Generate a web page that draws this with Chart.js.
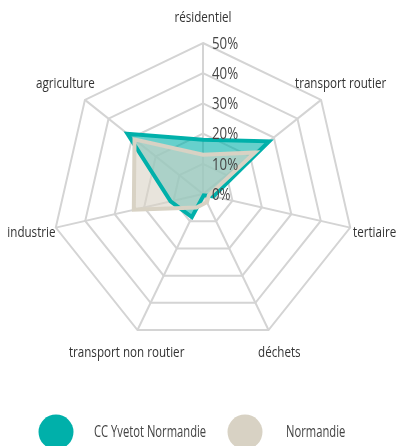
<!DOCTYPE html>
<html>
<head>
<meta charset="utf-8">
<script src="https://cdn.jsdelivr.net/npm/chart.js@4/dist/chart.umd.min.js"></script>
<style>
  html, body { margin: 0; padding: 0; background: #fff; }
  #wrap { position: relative; width: 397px; height: 446px; overflow: hidden; }
</style>
</head>
<body>
<div id="wrap"><canvas id="c" width="397" height="446"></canvas></div>
<script>
// Émissions par secteur (part du total, en %)
const categories = ['résidentiel', 'transport routier', 'tertiaire', 'déchets', 'transport non routier', 'industrie', 'agriculture'];
const yvetotValues = [18, 28, 3.5, 0.5, 8.5, 11, 32];
const normandieValues = [13, 22, 2, 3, 5, 23.5, 29];
const seriesNames = ['CC Yvetot Normandie', 'Normandie'];
const tickMin = 0;
const tickMax = 50;
const tickStep = 10;

const FONT = '"Open Sans", "Noto Sans", sans-serif';
const TEAL = 'rgb(0,176,170)';
const TEAL_FILL = 'rgba(0,176,170,0.6)';
const BEIGE = 'rgb(216,210,196)';
const BEIGE_FILL = 'rgba(216,210,196,0.6)';

// Draws horizontally condensed text (narrow typeface look)
function drawCondensed(ctx, text, x, y, font, sx, align, color) {
  ctx.save();
  ctx.font = font;
  ctx.fillStyle = color;
  const w = ctx.measureText(text).width * sx;
  const left = align === 'center' ? x - w / 2 : (align === 'right' ? x - w : x);
  ctx.translate(left, y);
  ctx.scale(sx, 1);
  ctx.textAlign = 'left';
  ctx.textBaseline = 'middle';
  ctx.fillText(text, 0, 0);
  ctx.restore();
}

// Category names centred just outside each spoke, and % labels beside the vertical spoke
const radarLabelsPlugin = {
  id: 'radarLabels',
  afterDatasetsDraw(chart) {
    const s = chart.scales.r;
    const ctx = chart.ctx;
    chart.data.labels.forEach((name, i) => {
      const p = s.getPointPosition(i, s.drawingArea + 25);
      drawCondensed(ctx, name, p.x, p.y, '14px ' + FONT, 0.83, 'center', '#333');
    });
    s.ticks.forEach(t => {
      const d = s.getDistanceFromCenterForValue(t.value);
      drawCondensed(ctx, t.value + '%', s.xCenter + 9, s.yCenter - d + 1, '17px ' + FONT, 0.78, 'left', '#444');
    });
  }
};

// Legend with large round swatches along the bottom
const bigLegendPlugin = {
  id: 'bigLegend',
  afterDraw(chart) {
    const ctx = chart.ctx;
    const swatchX = [56, 245];
    const textX = [94, 286];
    const y = 432;
    chart.data.datasets.forEach((ds, i) => {
      ctx.save();
      ctx.beginPath();
      ctx.arc(swatchX[i], y, 17.5, 0, Math.PI * 2);
      ctx.fillStyle = ds.borderColor;
      ctx.fill();
      ctx.restore();
      drawCondensed(ctx, ds.label, textX[i], y, '17px ' + FONT, 0.66, 'left', '#444');
    });
  }
};

new Chart(document.getElementById('c'), {
  type: 'radar',
  data: {
    labels: categories,
    datasets: [
      {
        label: seriesNames[0],
        data: yvetotValues,
        borderColor: TEAL,
        backgroundColor: TEAL_FILL,
        borderWidth: 4,
        borderJoinStyle: 'miter',
        pointRadius: 0,
        fill: true,
        order: 2
      },
      {
        label: seriesNames[1],
        data: normandieValues,
        borderColor: BEIGE,
        backgroundColor: BEIGE_FILL,
        borderWidth: 4,
        borderJoinStyle: 'miter',
        pointRadius: 0,
        fill: true,
        order: 1
      }
    ]
  },
  options: {
    responsive: false,
    devicePixelRatio: 1,
    animation: false,
    layout: { padding: { top: 43, bottom: 101, left: 52, right: 43 } },
    plugins: {
      legend: { display: false },
      tooltip: { enabled: false },
      filler: { drawTime: 'beforeDatasetsDraw' }
    },
    scales: {
      r: {
        min: tickMin,
        max: tickMax,
        ticks: { stepSize: tickStep, display: false },
        grid: { color: '#d4d4d4', lineWidth: 2 },
        angleLines: { color: '#d4d4d4', lineWidth: 2 },
        pointLabels: { display: false }
      }
    }
  },
  plugins: [radarLabelsPlugin, bigLegendPlugin]
});
</script>
</body>
</html>
